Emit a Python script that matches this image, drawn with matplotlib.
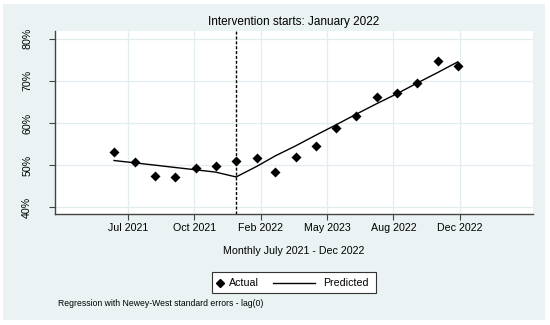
import matplotlib
matplotlib.use("Agg")
import matplotlib.pyplot as plt
import matplotlib.dates as mdates
from matplotlib.patches import Rectangle
from matplotlib.lines import Line2D
import pandas as pd
import numpy as np

plt.rcParams['font.family'] = ['Liberation Sans', 'DejaVu Sans']

# ---- data ----
months = pd.date_range("2021-07-01", "2022-12-01", freq="MS")
actual = [53.1, 50.7, 47.5, 47.1, 49.3, 49.8, 50.9, 51.8, 48.3, 52.0,
          54.5, 58.8, 61.6, 66.1, 67.2, 69.6, 74.8, 73.5]
predicted = [51.1, 50.55, 50.0, 49.45, 48.9, 48.35, 47.2, 49.7, 52.2, 54.6,
             57.1, 59.6, 62.1, 64.6, 67.0, 69.5, 72.0, 74.5]
intervention = pd.Timestamp("2022-01-01")
tick_labels = ["Jul 2021", "Oct 2021", "Feb 2022", "May 2023", "Aug 2022", "Dec 2022"]
y_ticks = [40, 50, 60, 70, 80]
legend_labels = ["Actual", "Predicted"]

W, H = 550, 325
fig = plt.figure(figsize=(W / 100, H / 100), dpi=100)
fig.patch.set_facecolor("white")
bg = "#EAF2F3"
fig.patches.append(Rectangle((3 / W, 5 / H), 542 / W, 316 / H, transform=fig.transFigure,
                             facecolor=bg, edgecolor="none", zorder=-10))

ax = fig.add_axes([55 / W, (H - 214) / H, (533 - 55) / W, (214 - 31) / H])
ax.set_facecolor("white")

x = mdates.date2num(months)
ax.plot(x, predicted, color="black", lw=1.0, zorder=3)
ax.scatter(x, actual, marker="D", s=26, color="black", zorder=4, linewidths=0)
ax.axvline(mdates.date2num(intervention), color="black", lw=1.0, ls=(0, (2.2, 1.3)), zorder=2)

# axis ranges
x0 = x[0]
per_month = (x[-1] - x[0]) / 17.0
ax.set_xlim(x0 - 2.918 * per_month, x0 + 20.72 * per_month)
ax.set_ylim(38.41, 81.83)

tick_start = mdates.date2num(pd.Timestamp("2021-07-22"))
xticks = [tick_start + 100 * k for k in range(len(tick_labels))]
ax.set_xticks(xticks)
ax.set_xticklabels(tick_labels, fontsize=7.7)
ax.set_yticks(y_ticks)
ax.set_yticklabels([f"{v}%" for v in y_ticks], fontsize=7.7, rotation=90, va="center")

ax.grid(True, color="#E3EDF0", lw=0.9, zorder=0)
ax.set_axisbelow(True)
for s in ["top", "right"]:
    ax.spines[s].set_visible(False)
for s in ["left", "bottom"]:
    ax.spines[s].set_color("#444444")
    ax.spines[s].set_linewidth(1.0)
ax.tick_params(axis="both", length=4.5, width=0.8, color="#444444")
ax.tick_params(axis="x", pad=2)
ax.tick_params(axis="y", pad=12)

ax.set_title("Intervention starts: January 2022", fontsize=8.5, pad=4)
ax.set_xlabel("Monthly July 2021 - Dec 2022", fontsize=7.7, labelpad=9)

# legend box (drawn manually to match the layout of the reference)
def fx(px):
    return px / W

def fy(py):
    return (H - py) / H

fig.patches.append(Rectangle((fx(212), fy(293)), fx(376) - fx(212), fy(272) - fy(293),
                             transform=fig.transFigure, facecolor="white",
                             edgecolor="#333333", lw=0.8, zorder=5))
fig.lines.append(Line2D([fx(220.5)], [fy(282.5)], marker="D", color="black", ls="none",
                        markersize=3.6, transform=fig.transFigure, zorder=6))
fig.text(fx(228.5), fy(282.5), legend_labels[0], fontsize=7.7, va="center", ha="left", zorder=6)
fig.lines.append(Line2D([fx(273), fx(315)], [fy(282.5), fy(282.5)], color="black", lw=1.0,
                        transform=fig.transFigure, zorder=6))
fig.text(fx(323), fy(282.5), legend_labels[1], fontsize=7.7, va="center", ha="left", zorder=6)

fig.text(fx(58), fy(303.5), "Regression with Newey-West standard errors - lag(0)",
         fontsize=6.2, va="center", ha="left")

fig.savefig("out.png", dpi=100)
